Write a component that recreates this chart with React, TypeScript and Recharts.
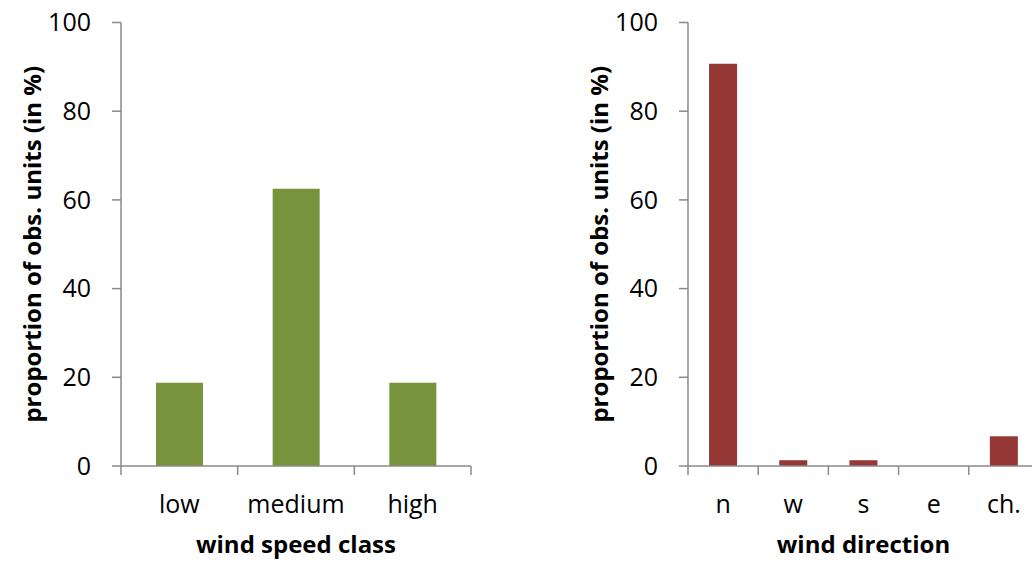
import { BarChart, Bar, XAxis, YAxis } from "recharts";

const speedClasses = ["low", "medium", "high"];
const speedShares = [18.75, 62.5, 18.75];
const directions = ["n", "w", "s", "e", "ch."];
const directionShares = [90.7, 1.3, 1.3, 0, 6.7];
const yTicks = [0, 20, 40, 60, 80, 100];

const AXIS = "#8a8a8a";
const FONT = "'Open Sans', 'DejaVu Sans', sans-serif";
const H = 561;
const Y_W = 121;
const X_H = 95;
const TOP = 22.5;

function categoryTick(band: number, count: number) {
  return (props: any) => {
    const { x, y, payload, index } = props;
    const half = band / 2;
    return (
      <g>
        <line x1={x - half} x2={x - half} y1={y} y2={y + 9} stroke={AXIS} strokeWidth={1.5} />
        {index === count - 1 && (
          <line x1={x + half} x2={x + half} y1={y} y2={y + 9} stroke={AXIS} strokeWidth={1.5} />
        )}
        <text x={x} y={y + 47} textAnchor="middle" fill="#000" fontSize={25} fontFamily={FONT}>
          {payload.value}
        </text>
      </g>
    );
  };
}

function YTitle({ viewBox }: any) {
  const cx = viewBox.x + 31;
  const cy = viewBox.y + viewBox.height / 2;
  return (
    <text x={cx} y={cy} transform={`rotate(-90 ${cx} ${cy})`} textAnchor="middle" dominantBaseline="central"
      fontSize={24} fontWeight="bold" fontFamily={FONT} fill="#000">
      proportion of obs. units (in %)
    </text>
  );
}

function XTitle({ viewBox, text }: any) {
  return (
    <text x={viewBox.x + viewBox.width / 2} y={viewBox.y + 87} textAnchor="middle"
      fontSize={24} fontWeight="bold" fontFamily={FONT} fill="#000">
      {text}
    </text>
  );
}

function Panel({ cats, values, color, title, width, right }: any) {
  const data = cats.map((c: string, i: number) => ({ cat: c, v: values[i] }));
  const band = (width - Y_W - right) / cats.length;
  return (
    <BarChart width={width} height={H} data={data} margin={{ top: TOP, right, bottom: 0, left: 0 }} barCategoryGap="30%">
      <XAxis dataKey="cat" height={X_H} interval={0} tickLine={false} tickSize={0} tickMargin={0}
        axisLine={{ stroke: AXIS, strokeWidth: 1.5 }} tick={categoryTick(band, cats.length)}
        label={<XTitle text={title} />} />
      <YAxis width={Y_W} domain={[0, 100]} ticks={yTicks} interval={0} tickSize={9} tickMargin={21}
        axisLine={{ stroke: AXIS, strokeWidth: 1.5 }} tickLine={{ stroke: AXIS, strokeWidth: 1.5 }}
        tick={{ fill: "#000", fontSize: 25, fontFamily: FONT }} label={<YTitle />} />
      <Bar dataKey="v" fill={color} isAnimationActive={false} />
    </BarChart>
  );
}

export default function App() {
  return (
    <div style={{ position: "absolute", left: 0, top: 0, width: 1032, height: H, overflow: "hidden", background: "#fff" }}>
      <div style={{ position: "absolute", left: 0, top: 0 }}>
        <Panel cats={speedClasses} values={speedShares} color="#77933c" title="wind speed class" width={500} right={29} />
      </div>
      <div style={{ position: "absolute", left: 567, top: 0 }}>
        <Panel cats={directions} values={directionShares} color="#953735" title="wind direction" width={479} right={7} />
      </div>
    </div>
  );
}
